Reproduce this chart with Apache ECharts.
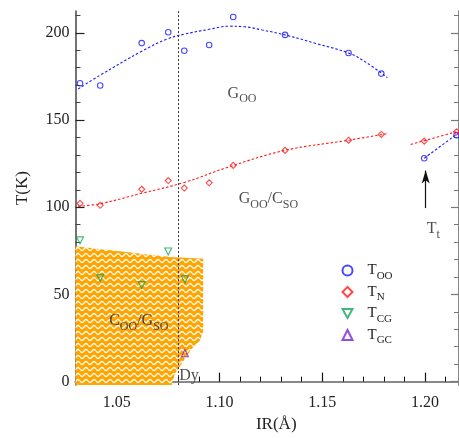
<!DOCTYPE html>
<html>
<head>
<meta charset="utf-8">
<script src="https://cdn.jsdelivr.net/npm/echarts@6/dist/echarts.min.js"></script>
<style>html,body{margin:0;padding:0;background:#fff}#c{width:459px;height:438px}</style>
</head>
<body>
<div id="c"></div>
<script>
// ---- tick labels ----
const X_MAJOR = [1.05, 1.10, 1.15, 1.20];
const X_MINOR = [1.04, 1.06, 1.07, 1.08, 1.09, 1.11, 1.12, 1.13, 1.14, 1.16, 1.17, 1.18, 1.19, 1.21];
const Y_MAJOR = [0, 50, 100, 150, 200];
const Y_MINOR = [10, 20, 30, 40, 60, 70, 80, 90, 110, 120, 130, 140, 160, 170, 180, 190, 210];

// ---- measured points ----
const IR_OO = [1.0322, 1.042, 1.0622, 1.0751, 1.0829, 1.095, 1.1067, 1.1319, 1.1628, 1.1787, 1.1996, 1.2153];
const T_OO  = [171.1, 169.8, 194.1, 200.3, 189.7, 193.0, 209.1, 198.8, 188.4, 176.6, 128.1, 141.3];
const IR_N  = [1.0322, 1.042, 1.0622, 1.0751, 1.0829, 1.095, 1.1067, 1.1319, 1.1628, 1.1787, 1.1996, 1.2153];
const T_N   = [102.2, 101.1, 110.3, 115.3, 111.0, 114.0, 124.0, 132.6, 138.4, 141.7, 137.9, 143.2];
const IR_CG = [1.0322, 1.042, 1.0622, 1.0751, 1.0832];
const T_CG  = [81.0, 59.5, 55.4, 74.6, 58.6];
const IR_GC = [1.0832];
const T_GC  = [16.3];

// ---- fitted guide curves ----
const FIT_OO_X = [1.0313, 1.042, 1.0622, 1.0743, 1.0829, 1.095, 1.1046, 1.112, 1.1208, 1.1319, 1.1468, 1.1628, 1.1711, 1.1817];
const FIT_OO_Y = [167.8, 175.7, 189.4, 196.3, 199.2, 202.0, 203.8, 203.5, 201.6, 198.8, 193.9, 188.4, 183.2, 174.3];
const FIT_OO2_X = [1.1996, 1.2165];
const FIT_OO2_Y = [128.1, 142.8];
const FIT_N_X = [1.0313, 1.042, 1.0622, 1.0829, 1.1046, 1.1319, 1.1628, 1.1817];
const FIT_N_Y = [100.5, 102.0, 108.0, 114.2, 123.1, 132.6, 138.4, 142.2];
const FIT_N2_X = [1.193, 1.2165];
const FIT_N2_Y = [136.0, 143.7];

// ---- C_OO/G_SO region outline ----
const REGION_X = [1.03, 1.076, 1.0921, 1.0921, 1.0905, 1.0865, 1.0784, 1.0768, 1.03];
const REGION_Y = [77.6, 71.4, 70.5, 29.0, 23.5, 18.8, 4.7, -2, -2];

// ---- reference marks ----
const DY_IR = 1.0832;
const ARROW_X = [1.2003, 1.2003];
const ARROW_Y = [99.5, 121.0];

// ---- annotations ----
const ANNOT_X = [1.1110, 1.1238, 1.0608, 1.0852, 1.2040];
const ANNOT_Y = [165.3, 104.6, 35.1, 3.6, 87.6];
const ANNOT_TEXT = ['{m|G}{s|OO}', '{m|G}{s|OO}{m|/C}{s|SO}', '{m|C}{s|OO}{m|/G}{s|SO}', '{d|Dy}', '{m|T}{s|t}'];

const SERIF = "Liberation Serif";
const zip = (a, b) => a.map((v, i) => [v, b[i]]);

// wavy hatch pattern
const pat = document.createElement('canvas');
pat.width = 8; pat.height = 6;
(function () {
  const c = pat.getContext('2d');
  c.fillStyle = '#FFA500';
  c.fillRect(0, 0, 8, 6);
  c.strokeStyle = '#ffffff';
  c.lineWidth = 1.3;
  c.beginPath();
  for (let i = 0; i <= 16; i++) {
    const x = i * 0.5;
    const y = 3 + 1.5 * Math.sin(Math.PI * 2 * x / 8);
    if (i === 0) c.moveTo(x, y); else c.lineTo(x, y);
  }
  c.stroke();
})();

const subRich = {
  m: { fontSize: 16, fontFamily: SERIF, color: '#222', lineHeight: 24, verticalAlign: 'middle' },
  s: { fontSize: 12, fontFamily: SERIF, color: '#222', lineHeight: 12, verticalAlign: 'bottom' },
  d: { fontSize: 16, fontFamily: SERIF, color: '#222', lineHeight: 20 }
};
const legendNames = { T_OO: '{p| }{m|T}{s|OO}', T_N: '{p| }{m|T}{s|N}', T_CG: '{p| }{m|T}{s|CG}', T_GC: '{p| }{m|T}{s|GC}' };

const chart = echarts.init(document.getElementById('c'), null, { renderer: 'canvas' });
const fitLine = (name, xs, ys, color) => ({
  name, type: 'line', data: zip(xs, ys), showSymbol: false, symbol: 'none', smooth: 0.4,
  silent: true, z: 3,
  lineStyle: { color, width: 1.1, type: [2.5, 2] }
});
const openItem = (c) => ({ color: 'rgba(255,255,255,0)', borderColor: c, borderWidth: 1.1 });

chart.setOption({
  animation: false,
  textStyle: { fontFamily: SERIF },
  grid: { left: 75.5, right: 0, top: 11, bottom: 46, containLabel: false },
  legend: {
    orient: 'vertical', left: 336.5, top: 258, itemWidth: 10, itemHeight: 10, itemGap: 3,
    data: ['T_OO', 'T_N', 'T_CG', 'T_GC'],
    formatter: (n) => legendNames[n],
    textStyle: { rich: {
      p: { width: 10, fontSize: 15, lineHeight: 22 },
      m: { fontSize: 15, fontFamily: SERIF, color: '#222', lineHeight: 22, verticalAlign: 'middle' },
      s: { fontSize: 11, fontFamily: SERIF, color: '#222', lineHeight: 11, verticalAlign: 'bottom' }
    } }
  },
  xAxis: [
    { type: 'value', min: 1.03, max: 1.2165, position: 'bottom',
      axisLine: { show: true, lineStyle: { color: '#111', width: 1.5 } },
      axisTick: { show: true, inside: true, length: 9, customValues: X_MAJOR, lineStyle: { color: '#111', width: 1.2 } },
      axisLabel: { customValues: X_MAJOR, formatter: (v) => v.toFixed(2), fontSize: 16, fontFamily: SERIF, color: '#222', margin: 10 },
      splitLine: { show: false },
      name: 'IR(Å)', nameLocation: 'middle', nameGap: 27,
      nameTextStyle: { fontSize: 17, fontFamily: SERIF, color: '#222', padding: [0, 0, 0, 18] } },
    { type: 'value', min: 1.03, max: 1.2165, position: 'bottom',
      axisLine: { show: false },
      axisTick: { show: true, inside: true, length: 5, customValues: X_MINOR, lineStyle: { color: '#111', width: 1 } },
      axisLabel: { show: false }, splitLine: { show: false } },
    { type: 'value', min: 1.03, max: 1.2165, position: 'top',
      axisLine: { show: true, lineStyle: { color: '#888', width: 2 } },
      axisTick: { show: false }, axisLabel: { show: false }, splitLine: { show: false } }
  ],
  yAxis: [
    { type: 'value', min: -2, max: 212.5, position: 'left',
      axisLine: { show: true, lineStyle: { color: '#444', width: 1.5 } },
      axisTick: { show: true, inside: true, length: 9, customValues: Y_MAJOR, lineStyle: { color: '#222', width: 1.2 } },
      axisLabel: { customValues: Y_MAJOR, fontSize: 16, fontFamily: SERIF, color: '#222', margin: 6 },
      splitLine: { show: false },
      name: 'T(K)', nameLocation: 'middle', nameGap: 44,
      nameTextStyle: { fontSize: 17, fontFamily: SERIF, color: '#222', padding: [0, 0, 0, 20] } },
    { type: 'value', min: -2, max: 212.5, position: 'left',
      axisLine: { show: false },
      axisTick: { show: true, inside: true, length: 5, customValues: Y_MINOR, lineStyle: { color: '#444', width: 1 } },
      axisLabel: { show: false }, splitLine: { show: false } },
    { type: 'value', min: -2, max: 212.5, position: 'right',
      axisLine: { show: true, lineStyle: { color: '#888', width: 2 } },
      axisTick: { show: true, inside: true, length: 8, customValues: Y_MAJOR, lineStyle: { color: '#777', width: 1.2 } },
      axisLabel: { show: false }, splitLine: { show: false } },
    { type: 'value', min: -2, max: 212.5, position: 'right',
      axisLine: { show: false },
      axisTick: { show: true, inside: true, length: 5, customValues: Y_MINOR, lineStyle: { color: '#777', width: 1 } },
      axisLabel: { show: false }, splitLine: { show: false } }
  ],
  series: [
    { name: 'region', type: 'custom', silent: true, z: 1, data: [0],
      renderItem: (params, api) => ({
        type: 'polygon',
        shape: { points: REGION_X.map((x, i) => api.coord([x, REGION_Y[i]])) },
        style: { fill: { image: pat, repeat: 'repeat' }, stroke: null }
      }) },
    fitLine('fitOO', FIT_OO_X, FIT_OO_Y, '#1a1aff'),
    fitLine('fitOO2', FIT_OO2_X, FIT_OO2_Y, '#1a1aff'),
    fitLine('fitN', FIT_N_X, FIT_N_Y, '#ff1a1a'),
    fitLine('fitN2', FIT_N2_X, FIT_N2_Y, '#ff1a1a'),
    { name: 'T_OO', type: 'scatter', data: zip(IR_OO, T_OO), symbol: 'circle', symbolSize: 5.5, z: 5, itemStyle: openItem('#1a1aff') },
    { name: 'T_N', type: 'scatter', data: zip(IR_N, T_N), symbol: 'diamond', symbolSize: 6, z: 5, itemStyle: openItem('#ff1a1a') },
    { name: 'T_CG', type: 'scatter', data: zip(IR_CG, T_CG), symbol: 'path://M0,0L10,0L5,9Z', symbolSize: 7, z: 5, itemStyle: openItem('#17a35a') },
    { name: 'T_GC', type: 'scatter', data: zip(IR_GC, T_GC), symbol: 'triangle', symbolSize: 7, z: 5, itemStyle: openItem('#7a1fd9') },
    { name: 'annot', type: 'scatter', silent: true, z: 6, symbolSize: 0,
      data: ANNOT_X.map((x, i) => [x, ANNOT_Y[i], ANNOT_TEXT[i]]),
      label: { show: true, position: 'inside', formatter: (p) => p.data[2], rich: subRich },
      markLine: {
        silent: true, symbol: ['none', 'none'], label: { show: false },
        data: [
          { xAxis: DY_IR, lineStyle: { color: '#333', width: 1, type: [2, 2] } },
          [ { coord: [ARROW_X[0], ARROW_Y[0]], symbol: 'none' },
            { coord: [ARROW_X[1], ARROW_Y[1]], symbol: 'arrow', symbolSize: [6, 13],
              lineStyle: { color: '#111', width: 1.2, type: 'solid' } } ]
        ],
        lineStyle: { color: '#111', width: 1.2, type: 'solid' }
      } }
  ]
});
</script>
</body>
</html>
